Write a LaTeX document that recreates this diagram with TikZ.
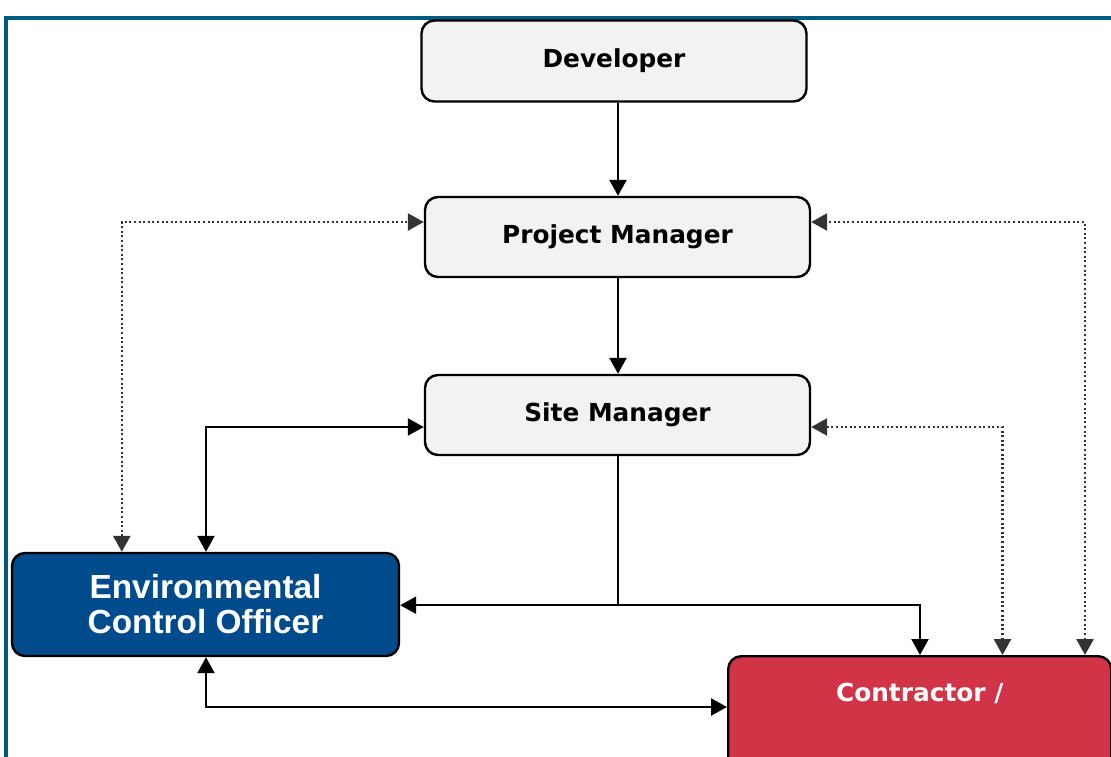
\documentclass[tikz,border=0pt]{standalone}
\usepackage{fontspec}
\usetikzlibrary{arrows.meta,calc}
\newfontfamily\boxfont{DejaVu Sans}
\newfontfamily\ecofont{Liberation Sans}
\definecolor{framecol}{RGB}{0,90,130}
\definecolor{boxgray}{RGB}{242,242,242}
\definecolor{ecoblue}{RGB}{0,75,140}
\definecolor{conred}{RGB}{208,52,70}
\tikzset{
  tip/.tip={Triangle[length=16pt,width=17pt]},
  roleBox/.style={draw=black, line width=2.4pt, rounded corners=13pt, fill=boxgray,
    font=\boxfont\bfseries\fontsize{24.8}{28}\selectfont, inner sep=0pt},
  ecoBox/.style={roleBox, fill=ecoblue, text=white, align=center,
    font=\ecofont\bfseries\fontsize{33.4}{35}\selectfont},
  conBox/.style={roleBox, fill=conred},
  conText/.style={text=white, font=\boxfont\bfseries\fontsize{24.8}{28}\selectfont, inner sep=0pt},
  solidLink/.style={draw=black, line width=2.3pt, arrows={-tip}},
  dottedLink/.style={draw=black!80, line width=2.6pt, dash pattern=on 2pt off 2.6pt,
    arrows={-tip}},
  twoWay/.style={arrows={tip-tip}},
}
\begin{document}
\begin{tikzpicture}[x=1pt,y=-1pt]
\useasboundingbox (0,0) rectangle (1111,756);
% outer frame (continues past the right and bottom edges)
\draw[framecol, line width=4pt] (6,18) -- (6,800) (4,18) -- (1130,18);

% hierarchy boxes
\node[roleBox, minimum width=385pt, minimum height=81pt] (dev) at (614,61) {Developer};
\node[roleBox, minimum width=385pt, minimum height=80pt] (pm) at (617.5,237) {Project Manager};
\node[roleBox, minimum width=385pt, minimum height=80pt] (sm) at (617.5,415) {Site Manager};
\node[ecoBox, minimum width=387pt, minimum height=103pt] (eco) at (205.5,604.5)
  {Environmental\\Control Officer};
\node[conBox, minimum width=383pt, minimum height=210pt, anchor=north west] (con) at (727,655) {};
\node[conText] (conlbl) at ($(con.north)+(0,38)$) {Contractor /};

% line-of-command arrows
\draw[solidLink] (dev.south -| pm.north) ++(0.5,0) -- ($(pm.north)+(0.5,0)$);
\draw[solidLink] ($(pm.south)+(0.5,0)$) -- ($(sm.north)+(0.5,0)$);

% site manager to officer and contractor
\coordinate (split) at ($(sm.south)+(0.5,149)$);
\draw[solidLink] ($(sm.south)+(0.5,0)$) -- (split) -- (split -| eco.east);
\draw[solidLink] (split) -| ($(con.north west)+(193,0)$);

% officer <-> site manager
\draw[solidLink, twoWay] ($(eco.north)+(0.5,0)$) |- ($(sm.west)+(0,12)$);

% officer <-> contractor
\draw[solidLink, twoWay] ($(eco.south)+(0.5,0)$) |- ($(con.north west)+(0,52)$);

% communication (dotted) links
\draw[dottedLink, twoWay] ($(eco.north west)+(111,0)$) |- ($(pm.west)+(0,-15)$);
\draw[dottedLink, twoWay] ($(con.north west)+(358,0)$) |- ($(pm.east)+(0,-15)$);
\draw[dottedLink, twoWay] ($(con.north west)+(275.5,0)$) |- ($(sm.east)+(0,12)$);
\end{tikzpicture}
\end{document}
